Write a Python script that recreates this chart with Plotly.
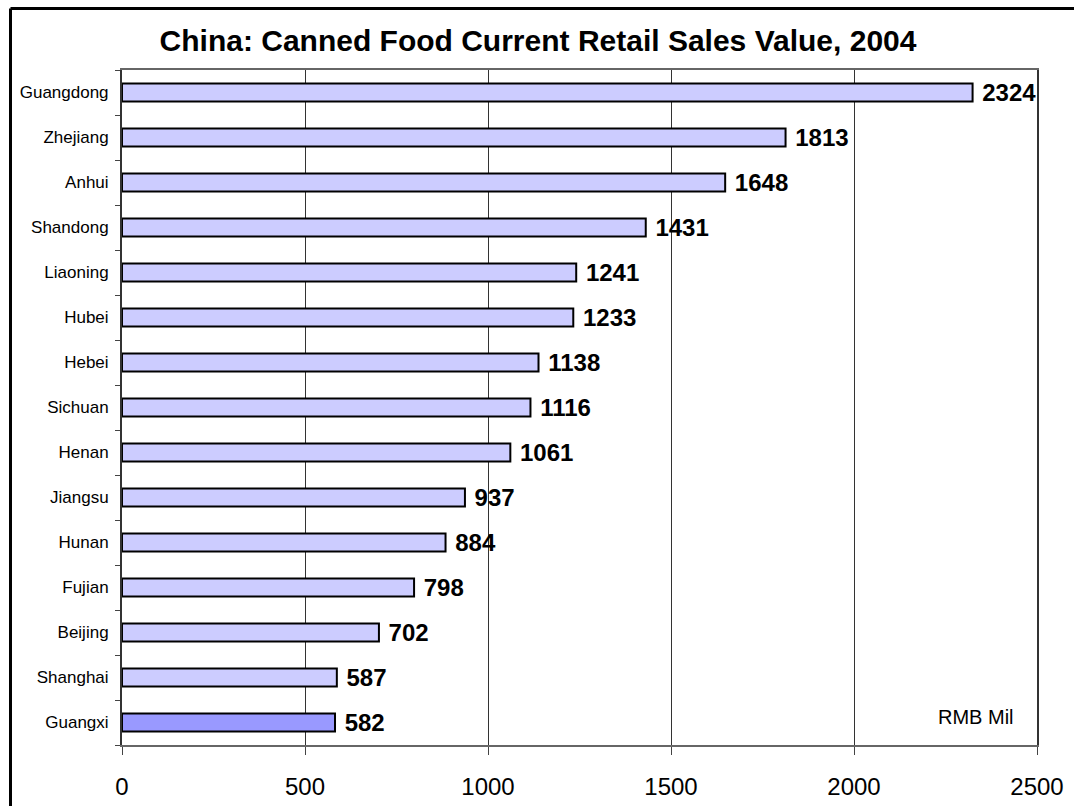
import plotly.graph_objects as go

provinces = ["Guangdong", "Zhejiang", "Anhui", "Shandong", "Liaoning", "Hubei", "Hebei",
             "Sichuan", "Henan", "Jiangsu", "Hunan", "Fujian", "Beijing", "Shanghai", "Guangxi"]
sales = [2324, 1813, 1648, 1431, 1241, 1233, 1138, 1116, 1061, 937, 884, 798, 702, 587, 582]
bar_colors = ["#ccccff"] * 14 + ["#9999ff"]

title_text = "China: Canned Food Current Retail Sales Value, 2004"
x_ticks = [0, 500, 1000, 1500, 2000, 2500]
unit_label = "RMB Mil"

FONT = "Arial, Liberation Sans, sans-serif"

fig = go.Figure(go.Bar(
    x=sales,
    y=provinces,
    orientation="h",
    marker=dict(color=bar_colors, line=dict(color="#000000", width=2)),
    texttemplate=" %{x}",
    textposition="outside",
    constraintext="none",
    textfont=dict(family=FONT, size=24, color="#000000", weight="bold"),
    cliponaxis=False,
    hoverinfo="x+y",
))

W, H = 1076, 808
L, R, T, B = 122, 39, 70, 63
pw, ph = W - L - R, H - T - B

def px_x(p):
    return (p - L) / pw

def px_y(p):
    return (H - B - p) / ph

border = dict(color="#000000", width=3)

fig.update_layout(
    width=W, height=H,
    autosize=False,
    margin=dict(l=L, r=R, t=T, b=B, pad=0, autoexpand=False),
    paper_bgcolor="white",
    plot_bgcolor="white",
    showlegend=False,
    bargap=0.6,
    title=dict(text=title_text, x=0.5, xanchor="center", y=1 - 40 / H, yanchor="middle",
               automargin=False,
               font=dict(family=FONT, size=30, color="#000000", weight="bold")),
    xaxis=dict(
        range=[0, 2500],
        tickvals=x_ticks,
        ticktext=[str(v) for v in x_ticks],
        showgrid=True, gridcolor="#333333", gridwidth=1,
        zeroline=False,
        showline=True, linecolor="#666666", linewidth=2, mirror=True,
        ticks="outside", ticklen=8, tickcolor="#444444", tickwidth=1,
        ticklabelstandoff=11,
        automargin=False,
        tickfont=dict(family=FONT, size=24, color="#000000"),
        fixedrange=True,
    ),
    yaxis=dict(
        categoryorder="array",
        categoryarray=provinces[::-1],
        showgrid=False, zeroline=False,
        showline=True, linecolor="#333333", linewidth=2, mirror=True,
        ticks="outside", tickson="boundaries", ticklen=5, tickcolor="#444444", tickwidth=1,
        ticklabelstandoff=8,
        automargin=False,
        tickfont=dict(family=FONT, size=17, color="#000000"),
        fixedrange=True,
    ),
    shapes=[
        dict(type="line", xref="paper", yref="paper",
             x0=px_x(10.5), x1=px_x(W - 2), y0=px_y(8.5), y1=px_y(8.5), line=border, layer="above"),
        dict(type="line", xref="paper", yref="paper",
             x0=px_x(10.5), x1=px_x(10.5), y0=px_y(8.5), y1=px_y(H - 2), line=border, layer="above"),
    ],
    annotations=[dict(text=unit_label, xref="paper", yref="paper",
                      x=px_x(1016), y=px_y(717), xanchor="right", yanchor="middle",
                      showarrow=False, font=dict(family=FONT, size=20, color="#000000"))],
)

fig.write_html("out.html", config={"displayModeBar": False})
